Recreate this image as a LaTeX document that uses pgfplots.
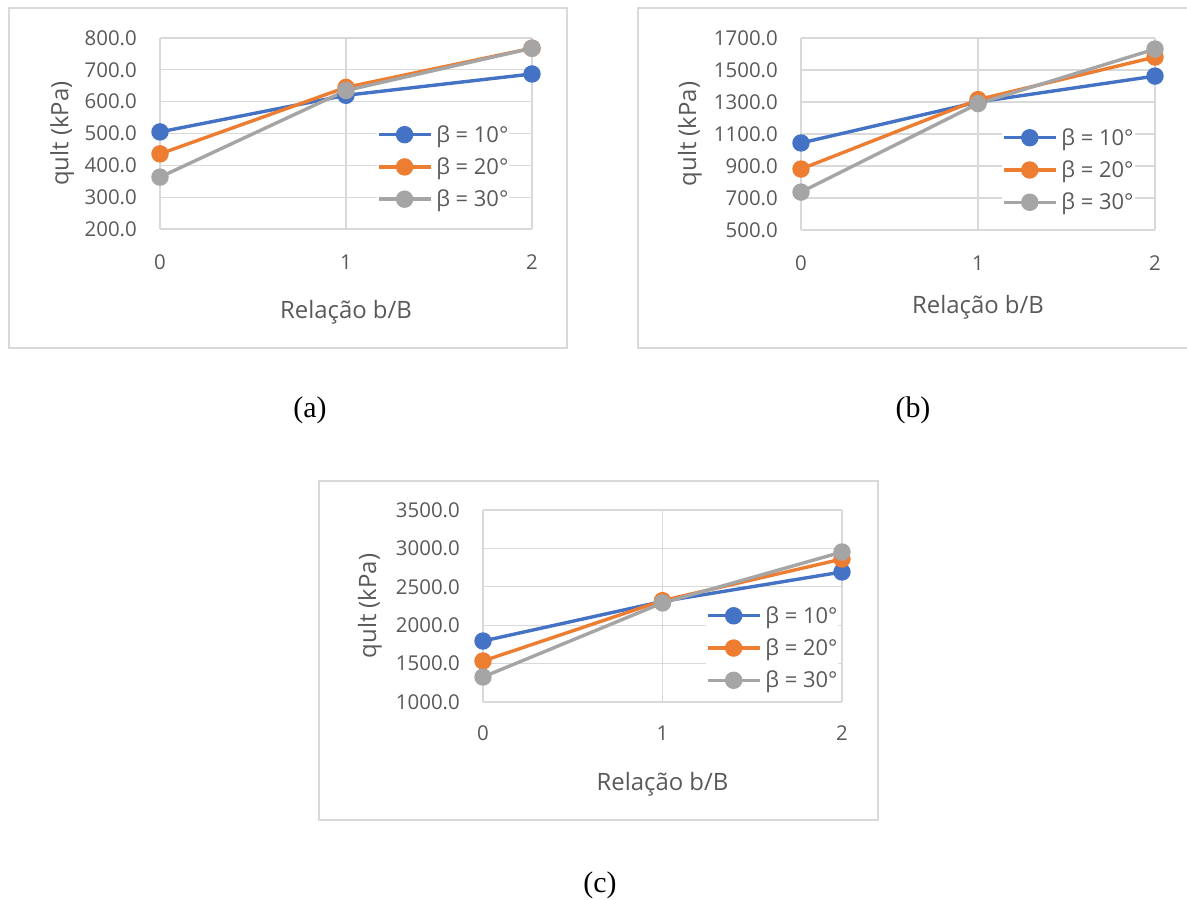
\documentclass[border=0pt]{standalone}
\usepackage{fontspec}
\setmainfont{Open Sans}
\newfontfamily\timesfont{Liberation Serif}
\usepackage{pgfplots}
\pgfplotsset{compat=1.18}
\definecolor{c1}{HTML}{4472C4}
\definecolor{c2}{HTML}{ED7D31}
\definecolor{c3}{HTML}{A5A5A5}
\definecolor{gridc}{HTML}{D9D9D9}
\definecolor{txt}{HTML}{595959}
\newcommand{\tfont}{\fontsize{20.5}{24}\selectfont}
\newcommand{\gfont}{\fontsize{22}{26}\selectfont}
\newcommand{\lfont}{\fontsize{24}{28}\selectfont}
\pgfplotsset{
  myax/.style={
    scale only axis, clip=false,
    xmin=0, xmax=2, xtick={0,1,2},
    grid=major,
    major grid style={draw=gridc, line width=1.2bp},
    axis line style={draw=none},
    major tick length=0pt,
    tick style={draw=none},
    /pgf/number format/assume math mode=true,
    tick label style={font=\tfont, text=txt},
    label style={font=\lfont, text=txt},
    yticklabel style={anchor=east, inner sep=0pt, xshift=-23bp},
    xticklabel style={anchor=center, inner sep=0pt, yshift=-33bp},
    xlabel={Relação b/B},
    ylabel={qult (kPa)},
    legend cell align=left,
    legend image code/.code={\draw[mark repeat=2,mark phase=2,##1] plot coordinates {(0bp,0bp) (26bp,0bp) (52bp,0bp)};},
    legend style={draw=none, fill=white, inner sep=0pt, outer sep=0pt, row sep=12bp, column sep=3bp, font=\gfont, text=txt, nodes={inner sep=1bp}},
    every axis plot/.append style={line width=3.4bp, mark=*, mark size=7bp, mark options={solid}},
  },
  s1/.style={color=c1, mark options={fill=c1}},
  s2/.style={color=c2, mark options={fill=c2}},
  s3/.style={color=c3, mark options={fill=c3}},
}
\begin{document}
\begin{tikzpicture}
\useasboundingbox (0bp,0bp) rectangle (1187bp,-900bp);
% frames
\draw[gridc, line width=1.5bp] (9bp,-8bp) rectangle (567bp,-348bp);
\draw[gridc, line width=1.5bp] (638bp,-8bp) rectangle (1195bp,-348bp);
\draw[gridc, line width=1.5bp] (319bp,-481bp) rectangle (878bp,-820bp);

% (a)
\begin{axis}[myax, at={(160bp,-229bp)}, anchor=south west,
  width=372bp, height=191bp,
  ymin=200, ymax=800, ytick={200,300,400,500,600,700,800},
  yticklabels={200.0,300.0,400.0,500.0,600.0,700.0,800.0},
  xlabel style={at={(axis description cs:0.5,-0.435)}, anchor=center},
  ylabel style={at={(axis description cs:-0.263,0.5)}, anchor=center},
  legend style={at={(axis description cs:0.583,0.325)}, anchor=west}]
\addplot[s1] coordinates {(0,505) (1,620) (2,687)};
\addplot[s2] coordinates {(0,436) (1,645) (2,768)};
\addplot[s3] coordinates {(0,363) (1,635) (2,768)};
\legend{β = 10°, β = 20°, β = 30°}
\end{axis}

% (b)
\begin{axis}[myax, at={(801bp,-230bp)}, anchor=south west,
  width=354bp, height=192bp,
  ymin=500, ymax=1700, ytick={500,700,900,1100,1300,1500,1700},
  yticklabels={500.0,700.0,900.0,1100.0,1300.0,1500.0,1700.0},
  xlabel style={at={(axis description cs:0.5,-0.40)}, anchor=center},
  ylabel style={at={(axis description cs:-0.3136,0.5)}, anchor=center},
  legend style={at={(axis description cs:0.568,0.3125)}, anchor=west}]
\addplot[s1] coordinates {(0,1044) (1,1300) (2,1462)};
\addplot[s2] coordinates {(0,881) (1,1315) (2,1581)};
\addplot[s3] coordinates {(0,737) (1,1290) (2,1631)};
\legend{β = 10°, β = 20°, β = 30°}
\end{axis}

% (c)
\begin{axis}[myax, at={(483bp,-702bp)}, anchor=south west,
  width=359bp, height=192bp,
  ymin=1000, ymax=3500, ytick={1000,1500,2000,2500,3000,3500},
  yticklabels={1000.0,1500.0,2000.0,2500.0,3000.0,3500.0},
  xticklabel style={yshift=2bp},
  xlabel style={at={(axis description cs:0.5,-0.43)}, anchor=center},
  ylabel style={at={(axis description cs:-0.315,0.5)}, anchor=center},
  legend style={at={(axis description cs:0.621,0.281)}, anchor=west}]
\addplot[s1] coordinates {(0,1794) (1,2310) (2,2693)};
\addplot[s2] coordinates {(0,1534) (1,2320) (2,2862)};
\addplot[s3] coordinates {(0,1326) (1,2290) (2,2953)};
\legend{β = 10°, β = 20°, β = 30°}
\end{axis}

\node[font=\timesfont\fontsize{30}{34}\selectfont, text=black] at (310bp,-410bp) {(a)};
\node[font=\timesfont\fontsize{30}{34}\selectfont, text=black] at (913bp,-410bp) {(b)};
\node[font=\timesfont\fontsize{30}{34}\selectfont, text=black] at (600bp,-885bp) {(c)};
\end{tikzpicture}
\end{document}
